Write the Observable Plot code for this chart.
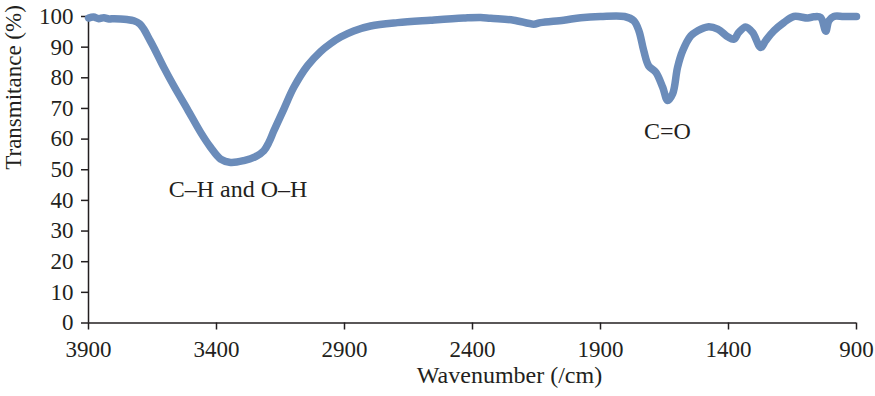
<!DOCTYPE html>
<html>
<head>
<meta charset="utf-8">
<script src="https://cdn.jsdelivr.net/npm/d3@7"></script>
<script src="https://cdn.jsdelivr.net/npm/@observablehq/plot@0.6"></script>
<style>
  html, body { margin: 0; padding: 0; background: #fff; }
  #chart { width: 875px; height: 396px; }
</style>
</head>
<body>
<div id="chart"></div>
<script>
const wavenumber = [3900,3880,3860,3840,3820,3800,3775,3750,3723,3700,3684,3665,3645,3606,3567,3514,3462,3423,3384,3345,3293,3247,3215,3195,3176,3137,3098,3045,2993,2954,2915,2864,2798,2693,2564,2435,2368,2329,2239,2161,2134,2044,1977,1900,1806,1770,1750,1731,1712,1684,1657,1638,1618,1599,1579,1547,1521,1482,1442,1403,1379,1360,1333,1306,1274,1255,1223,1184,1145,1090,1067,1040,1020,1008,989,950,900];
const transmittance = [99.5,99.8,99.3,99.6,99.2,99.3,99.2,99.0,98.6,97.6,95.9,93.0,89.9,83.4,77.4,69.8,62.2,57.3,53.5,52.4,53.0,54.3,56.2,59.0,62.7,69.8,76.9,83.9,88.6,91.2,93.3,95.3,96.9,98.0,98.8,99.5,99.7,99.4,98.8,97.5,98.0,98.8,99.6,100.0,100.0,98.6,95.3,88.8,83.9,81.8,76.9,72.6,74.8,83.4,88.8,93.7,95.3,96.6,95.9,93.4,92.6,94.8,96.6,94.8,89.9,92.1,95.3,98.0,100.0,99.5,99.9,99.7,95.2,98.6,100.0,100.0,100.0];
const xTicks = [3900,3400,2900,2400,1900,1400,900];
const yTicks = [0,10,20,30,40,50,60,70,80,90,100];
const annLabels = ["C\u2013H and O\u2013H", "C=O"];
const annWavenumber = [3316, 1639];
const annValue = [43.5, 62.4];
const xLabel = "Wavenumber (/cm)";
const yLabel = "Transmitance (%)";

const spectrum = wavenumber.map((w, i) => ({w, t: transmittance[i]}));
const annotations = annLabels.map((text, i) => ({text, w: annWavenumber[i], t: annValue[i]}));

const ink = "#231f20";
const font = "'Liberation Serif', 'Times New Roman', serif";

const chart = Plot.plot({
  width: 875,
  height: 396,
  marginLeft: 88,
  marginRight: 19,
  marginTop: 16,
  marginBottom: 73.5,
  style: {fontFamily: font, color: ink, background: "#fff"},
  x: {domain: [3900, 900]},
  y: {domain: [0, 100]},
  marks: [
    Plot.axisX({ticks: xTicks, tickFormat: d => String(d), tickSize: 7, tickPadding: 11, fontSize: 23, label: null, stroke: ink, strokeWidth: 1.5, fill: ink}),
    Plot.axisY({ticks: yTicks, tickFormat: d => String(d), tickSize: 7, tickPadding: 8, fontSize: 23, label: null, stroke: ink, strokeWidth: 1.5, fill: ink}),
    Plot.ruleY([0], {stroke: ink, strokeWidth: 1.5}),
    Plot.ruleX([3900], {stroke: ink, strokeWidth: 1.5}),
    Plot.line(spectrum, {x: "w", y: "t", stroke: "#6b8cba", strokeWidth: 7.5, strokeLinecap: "round", strokeLinejoin: "round", curve: "catmull-rom"}),
    Plot.text(annotations, {x: "w", y: "t", text: "text", fontSize: 24, fill: ink, fontFamily: font}),
    Plot.text([xLabel], {frameAnchor: "bottom", dx: 37, dy: 60, fontSize: 24, fill: ink, fontFamily: font}),
    Plot.text([yLabel], {frameAnchor: "left", rotate: -90, dx: -75, fontSize: 23, fill: ink, fontFamily: font})
  ]
});
document.getElementById("chart").appendChild(chart);
</script>
</body>
</html>
